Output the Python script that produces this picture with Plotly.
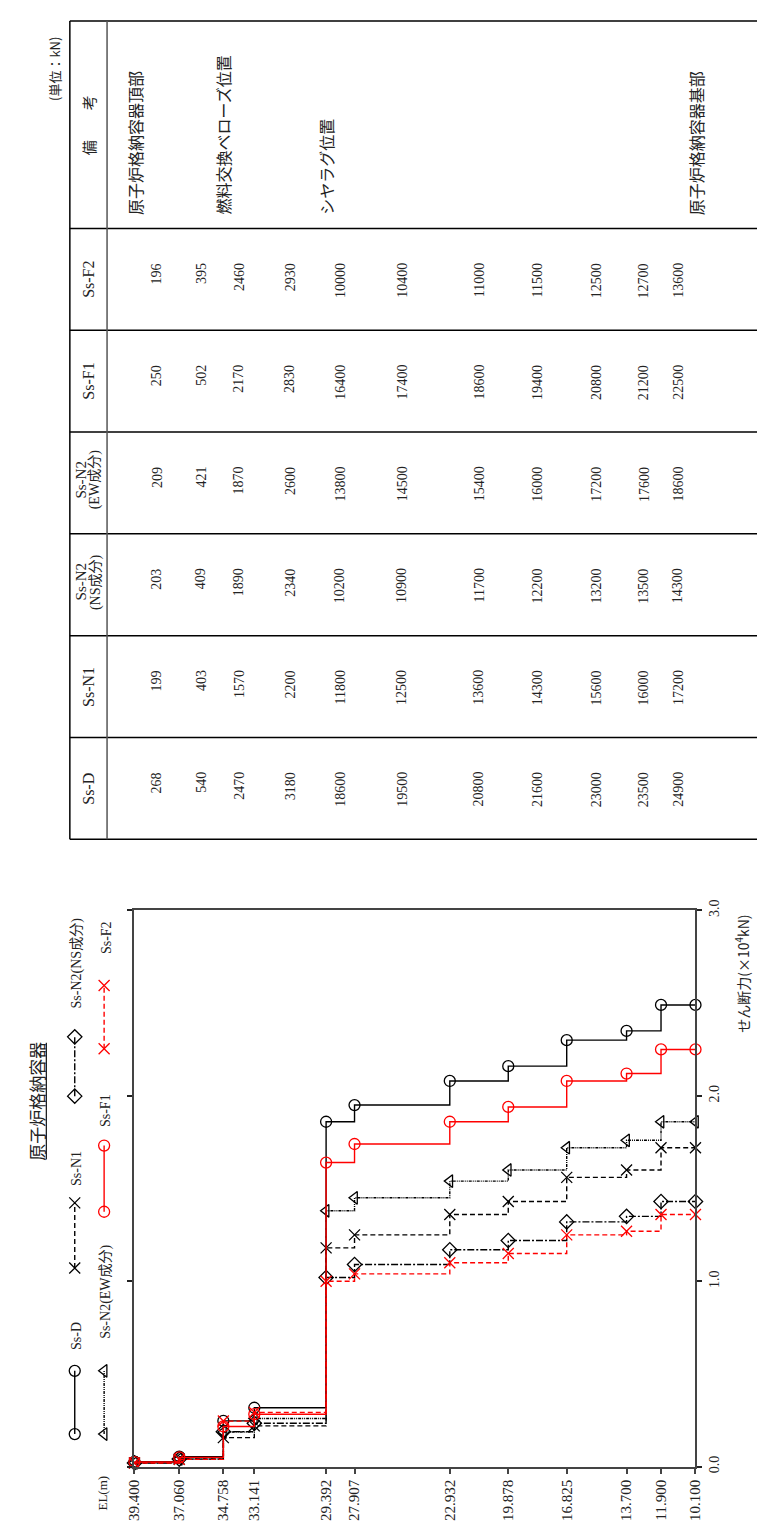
import plotly.graph_objects as go

# ---------------- data ----------------
elevations = [39.400, 37.060, 34.758, 33.141, 29.392, 27.907, 22.932, 19.878, 16.825, 13.700, 11.900, 10.100]
elev_labels = ["39.400", "37.060", "34.758", "33.141", "29.392", "27.907", "22.932", "19.878", "16.825", "13.700", "11.900", "10.100"]

ss_d = [268, 540, 2470, 3180, 18600, 19500, 20800, 21600, 23000, 23500, 24900]
ss_n1 = [199, 403, 1570, 2200, 11800, 12500, 13600, 14300, 15600, 16000, 17200]
ss_n2_ns = [203, 409, 1890, 2340, 10200, 10900, 11700, 12200, 13200, 13500, 14300]
ss_n2_ew = [209, 421, 1870, 2600, 13800, 14500, 15400, 16000, 17200, 17600, 18600]
ss_f1 = [250, 502, 2170, 2830, 16400, 17400, 18600, 19400, 20800, 21200, 22500]
ss_f2 = [196, 395, 2460, 2930, 10000, 10400, 11000, 11500, 12500, 12700, 13600]

series_names = ["Ss-D", "Ss-N1", "Ss-N2(NS成分)", "Ss-N2(EW成分)", "Ss-F1", "Ss-F2"]
table_headers = [["Ss-D"], ["Ss-N1"], ["Ss-N2", "(NS成分)"], ["Ss-N2", "(EW成分)"], ["Ss-F1"], ["Ss-F2"]]

remark_elev = [39.400, 34.758, 29.392, 10.100]
remark_text = ["原子炉格納容器頂部", "燃料交換ベローズ位置", "シヤラグ位置", "原子炉格納容器基部"]

shear_ticks = [0.0, 1.0, 2.0, 3.0]
shear_tick_labels = ["0.0", "1.0", "2.0", "3.0"]

# ---------------- layout helpers ----------------
W, H = 765, 1525
def px(x):
    return x / W
def py(y):
    return 1 - y / H

FONT = "Liberation Serif, Noto Sans CJK JP, serif"
JFONT = "Noto Sans CJK JP, Liberation Serif, serif"
TXT = "#222"

styles = {
    "Ss-D": dict(color="black", dash="solid", symbol="circle-open"),
    "Ss-N1": dict(color="black", dash="5px,3px", symbol="x-thin-open"),
    "Ss-N2(NS成分)": dict(color="black", dash="7px,2px,2px,2px", symbol="diamond-open"),
    "Ss-N2(EW成分)": dict(color="black", dash="3px,1px,1px,1px,1px,1px", symbol="triangle-left-open"),
    "Ss-F1": dict(color="red", dash="solid", symbol="circle-open"),
    "Ss-F2": dict(color="red", dash="5px,3px", symbol="x-thin-open"),
}
series_vals = [ss_d, ss_n1, ss_n2_ns, ss_n2_ew, ss_f1, ss_f2]

fig = go.Figure()

def ann(x, y, text, size, xref="paper", yref="paper", font=FONT, xanchor="center",
        yanchor="middle", **kw):
    fig.add_annotation(x=x, y=y, xref=xref, yref=yref, text=text, textangle=-90,
                       showarrow=False, xanchor=xanchor, yanchor=yanchor,
                       font=dict(family=font, size=size, color=TXT, **kw))

for name, vals in zip(series_names, series_vals):
    st = styles[name]
    yv = [v / 10000 for v in vals] + [vals[-1] / 10000]
    fig.add_trace(go.Scatter(
        x=elevations, y=yv, mode="lines+markers", name=name,
        line=dict(color=st["color"], dash=st["dash"], width=1.4, shape="hv"),
        marker=dict(symbol=st["symbol"], size=11, color=st["color"],
                    line=dict(color=st["color"], width=1.3)),
        xaxis="x", yaxis="y", cliponaxis=False,
    ))

# ---------------- legend (drawn on a hidden helper axis) ----------------
leg_items = [
    # name, column x, sample start y, sample end y, label center y
    ("Ss-D", 60, 1432, 1368, 1333),
    ("Ss-N1", 60, 1264, 1198, 1163),
    ("Ss-N2(NS成分)", 60, 1090, 1030, 955),
    ("Ss-N2(EW成分)", 90, 1432, 1368, 1288),
    ("Ss-F1", 90, 1207, 1140, 1105),
    ("Ss-F2", 90, 1042, 978, 930),
]
for name, cx, y1, y2, ly in leg_items:
    st = styles[name]
    fig.add_trace(go.Scatter(
        x=[cx, cx], y=[y1, y2], mode="lines+markers", showlegend=False,
        line=dict(color=st["color"], dash=st["dash"], width=1.4),
        marker=dict(symbol=st["symbol"], size=11,
                    color=st["color"], line=dict(color=st["color"], width=1.3)),
        xaxis="x2", yaxis="y2", cliponaxis=False,
    ))
    ann(cx + 2, ly, name, 14, xref="x2", yref="y2")

# ---------------- table ----------------
line_col = "black"
shapes = []
def hline(y, x0, x1, w=1.5, c=line_col):
    shapes.append(dict(type="line", xref="paper", yref="paper", x0=px(x0), x1=px(x1),
                       y0=py(y), y1=py(y), line=dict(color=c, width=w)))
def vline(x, y0, y1, w=1.5, c=line_col):
    shapes.append(dict(type="line", xref="paper", yref="paper", x0=px(x), x1=px(x),
                       y0=py(y0), y1=py(y1), line=dict(color=c, width=w)))

tab_left, tab_right, tab_hdr = 55, 764, 93
cell_edges = [830, 727, 624, 521, 418, 315, 212, 2]  # Ss-D ... Ss-F2, 備考
for e in cell_edges:
    hline(e, tab_left, tab_right)
vline(tab_left, 2, 830)
vline(tab_right, 2, 830)
vline(tab_hdr, 2, 830, w=1.5, c="#555")

mids = [(elevations[i] + elevations[i + 1]) / 2 for i in range(len(elevations) - 1)]
for k, (hdr, vals) in enumerate(zip(table_headers, series_vals)):
    bottom = cell_edges[k]
    top = cell_edges[k + 1]
    cy = (bottom + top) / 2
    if len(hdr) == 1:
        ann(px(74), py(cy), hdr[0], 16)
    else:
        ann(px(66), py(cy - 3), hdr[0], 15)
        ann(px(81), py(cy - 3), hdr[1], 14)
    for m, v in zip(mids, vals):
        ann(m, py(top + 33), str(v), 14, xref="x", yanchor="top")

ann(px(74), py(107), "備　　考", 15, font=JFONT)
for e, t in zip(remark_elev, remark_text):
    ann(e, py(200), t, 16, xref="x", font=JFONT, yanchor="bottom")

ann(px(40), py(16), "(単位：kN)", 13, font=JFONT, yanchor="top")

# ---------------- chart texts ----------------
ann(px(20), py(1095), "原子炉格納容器", 17, font=JFONT)
shapes.append(dict(type="line", xref="paper", yref="paper", x0=px(31), x1=px(31),
                   y0=py(1036), y1=py(1154), line=dict(color="#222", width=1.3)))
ann(px(742), py(904), "せん断力(×10<sup>4</sup>kN)", 14, font=JFONT, yanchor="top")
ann(px(88), py(1492), "EL(m)", 13)

axis_col = "#444"
fig.update_layout(
    width=W, height=H, margin=dict(l=0, r=0, t=0, b=0),
    paper_bgcolor="white", plot_bgcolor="white", showlegend=False,
    shapes=shapes,
    xaxis=dict(domain=[px(121), px(694)], range=[39.4, 10.1], anchor="y",
               tickvals=elevations, ticktext=elev_labels, tickangle=-90,
               ticks="outside", ticklen=5, tickcolor=axis_col, tickwidth=1.5,
               showgrid=False, zeroline=False, showline=True, linecolor=axis_col,
               linewidth=2, mirror=True,
               tickfont=dict(family=FONT, size=15, color=TXT)),
    yaxis=dict(domain=[py(1465), py(902)], range=[0, 3.0], anchor="x", side="right",
               tickvals=shear_ticks, ticktext=shear_tick_labels, tickangle=-90,
               ticks="outside", ticklen=5, tickcolor="#222", tickwidth=1.5,
               showgrid=False, zeroline=False, showline=True, linecolor=axis_col,
               linewidth=2, mirror="allticks",
               tickfont=dict(family=FONT, size=14, color=TXT)),
    xaxis2=dict(domain=[px(30), px(110)], range=[30, 110], anchor="y2", visible=False),
    yaxis2=dict(domain=[py(1450), py(900)], range=[1450, 900], anchor="x2", visible=False),
)

fig.write_html("out.html")
